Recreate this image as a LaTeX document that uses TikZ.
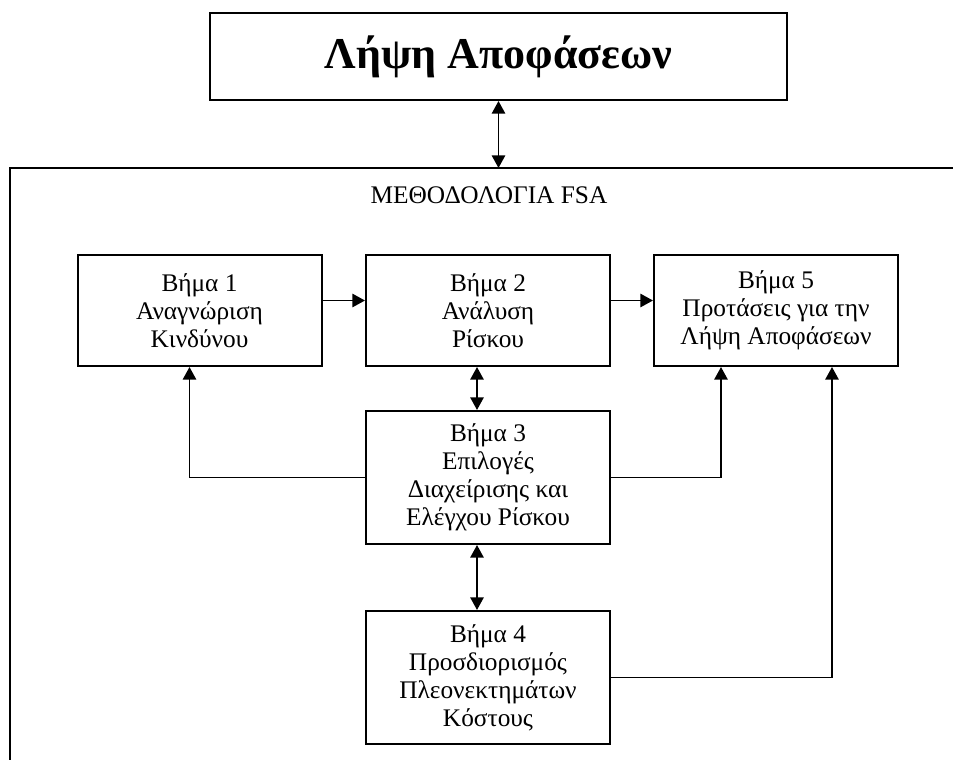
\documentclass[tikz,border=0pt]{standalone}
\usepackage{fontspec}
\setmainfont{Liberation Serif}
\usetikzlibrary{arrows.meta}
\begin{document}
\begin{tikzpicture}[x=0.75pt,y=-0.75pt,
  every node/.style={inner sep=0pt},
  stepbox/.style={draw,line width=1.5pt,rectangle,align=center,
    font=\fontsize{19pt}{21pt}\selectfont},
  link/.style={line width=1.4pt},
  tip/.tip={Triangle[length=9.5pt,width=10pt]},
  arr/.style={link,-tip},
  darr/.style={link,tip-tip}
]
\useasboundingbox (0,0) rectangle (953,760);

% decision box on top
\node[stepbox,minimum width=432.75pt,minimum height=65.25pt,
  font=\fontsize{33pt}{37pt}\selectfont\bfseries] (top) at (498.5,56.5) {Λήψη Αποφάσεων};

% frame of the FSA methodology (open to the right and bottom)
\coordinate (fr) at (953,168);
\coordinate (fc) at (10,168);
\coordinate (fb) at (10,760);
\draw[line width=1.5pt] (fr) -- (fc) -- (fb);
\node[font=\fontsize{19pt}{21pt}\selectfont] (title) at (489,195) {ΜΕΘΟΔΟΛΟΓΙΑ FSA};

% steps
\node[stepbox,minimum width=183pt,minimum height=83.25pt] (b1) at (199.5,310.5) {Βήμα 1\\Αναγνώριση\\Κινδύνου};
\node[stepbox,minimum width=183pt,minimum height=83.25pt] (b2) at (488,310.5) {Βήμα 2\\Ανάλυση\\Ρίσκου};
\node[stepbox,minimum width=183pt,minimum height=83.25pt] (b5) at (776,310.5) {Βήμα 5\\Προτάσεις για την\\Λήψη Αποφάσεων};
\node[stepbox,minimum width=183pt,minimum height=99.75pt] (b3) at (488,477.5) {Βήμα 3\\Επιλογές\\Διαχείρισης και\\Ελέγχου Ρίσκου};
\node[stepbox,minimum width=183pt,minimum height=99.75pt] (b4) at (488,677.5) {Βήμα 4\\Προσδιορισμός\\Πλεονεκτημάτων\\Κόστους};

% connectors
\draw[darr] (top.south) -- (top.south |- fc);
\draw[arr] ([yshift=7.5pt]b1.east) -- ([yshift=7.5pt]b2.west);
\draw[arr] ([yshift=7.5pt]b2.east) -- ([yshift=7.5pt]b5.west);
\draw[darr] ([xshift=-8.25pt]b2.south) -- ([xshift=-8.25pt]b3.north);
\draw[darr] ([xshift=-8.25pt]b3.south) -- ([xshift=-8.25pt]b4.north);
\draw[arr] (b3.west) -| ([xshift=-7.5pt]b1.south);
\draw[arr] (b3.east) -| ([xshift=-41.25pt]b5.south);
\draw[arr] (b4.east) -| ([xshift=42pt]b5.south);
\end{tikzpicture}
\end{document}
